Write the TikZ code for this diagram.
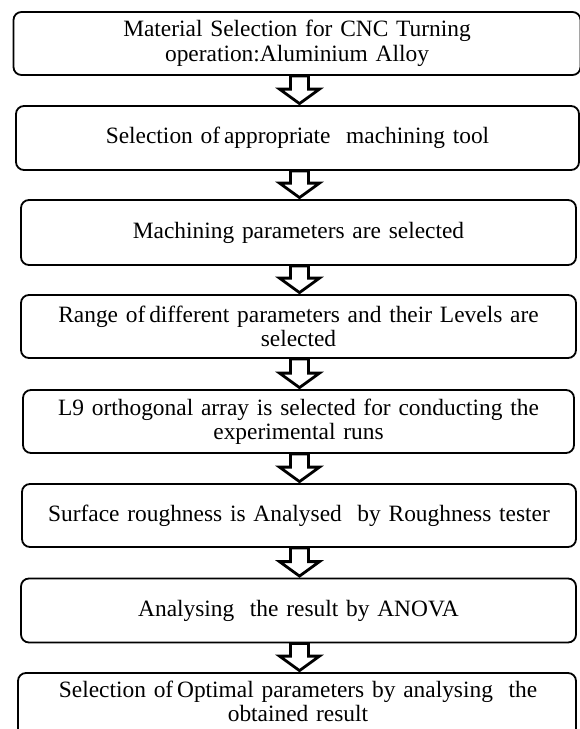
\documentclass[tikz,border=0pt]{standalone}
\usepackage{fontspec}
\setmainfont{Liberation Serif}
\usetikzlibrary{calc}
\tikzset{
  box/.style={draw=black, line width=1.8pt, rounded corners=8pt, fill=white,
    inner sep=0pt, align=center, text width=545pt,
    font=\fontsize{23.4}{24.5}\selectfont},
  boxtext/.style={inner sep=0pt, align=center, text width=545pt,
    font=\fontsize{23.4}{24}\selectfont},
  blk/.style={draw=black, line width=2.8pt, fill=white, line join=miter}
}
\newcommand{\blockarrow}[2]{%
  \draw[blk] let \p1=(#1.south -| ax), \p2=(#2.north -| ax) in
    (\x1-9pt,\y1) -- (\x1-9pt,\y2+16pt) -- (\x1-20pt,\y2+16pt) --
    (\x2,\y2+1.5pt) -- (\x1+20pt,\y2+16pt) -- (\x1+9pt,\y2+16pt) --
    (\x1+9pt,\y1) -- cycle;}
\begin{document}
\begin{tikzpicture}[x=1pt,y=-1pt]
\useasboundingbox (0,0) rectangle (580,729);
\clip (0,0) rectangle (580,729);
\fill[white] (0,0) rectangle (580,729);
\coordinate (ax) at (299.5,0);
\node[box, minimum width=567pt, minimum height=63pt] (b1) at (297,43.5)
  {Material Selection for CNC Turning\\operation:Aluminium Alloy};
\node[box, minimum width=563pt, minimum height=64pt] (b2) at (297.5,138)
  {Selection of\,appropriate~ machining tool};
\node[box, minimum width=555pt, minimum height=65pt] (b3) at (298.5,232.5)
  {Machining parameters are selected};
\node[box, minimum width=555pt, minimum height=63pt] (b4) at (298.5,326.5)
  {Range of\,different parameters and their Levels are\\selected};
\node[box, minimum width=551pt, minimum height=63pt] (b5) at (298.5,421.5)
  {L9 orthogonal array is selected for conducting the\\experimental runs};
\node[box, minimum width=554pt, minimum height=63pt] (b6) at (299,515.5)
  {Surface roughness is Analysed~ by Roughness tester};
\node[box, minimum width=555pt, minimum height=64pt] (b7) at (298.5,610.5)
  {Analysing~ the result by ANOVA};
\node[box, minimum width=558pt, minimum height=64pt] (b8) at (297,705) {};
\node[boxtext] (t8) at (298,701)
  {Selection of\,Optimal parameters by analysing~ the\\obtained result};
\blockarrow{b1}{b2}
\blockarrow{b2}{b3}
\blockarrow{b3}{b4}
\blockarrow{b4}{b5}
\blockarrow{b5}{b6}
\blockarrow{b6}{b7}
\blockarrow{b7}{b8}
\end{tikzpicture}
\end{document}
